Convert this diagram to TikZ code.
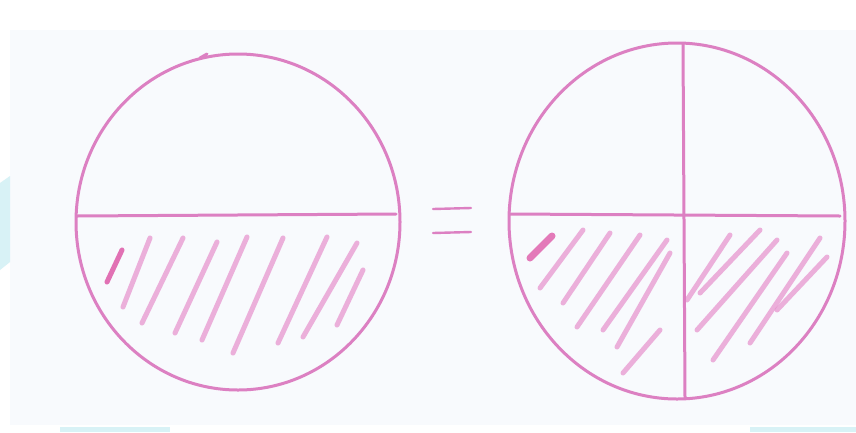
\documentclass[tikz,border=0pt]{standalone}
\usetikzlibrary{calc}
\usepackage{xcolor}
\definecolor{penPink}{HTML}{DC80C2}
\definecolor{hatchPink}{HTML}{E690CC}
\definecolor{darkPink}{HTML}{DE5AA8}
\definecolor{paperBlue}{HTML}{F8FAFD}
\definecolor{tabCyan}{HTML}{D8F2F6}

\begin{document}
\begin{tikzpicture}[x=1pt,y=-1pt,line cap=round,line join=round]
\tikzstyle{penline}=[draw=penPink,line width=3pt]
\tikzstyle{hatch}=[draw=hatchPink,line width=5pt,opacity=.7]
% paper
\fill[white] (0,0) rectangle (856,432);
\fill[paperBlue] (10,30) rectangle (856,425);
\fill[tabCyan] (0,183) -- (10,176) -- (10,262) -- (0,270) -- cycle;
\fill[tabCyan] (60,427) rectangle (170,432);
\fill[tabCyan] (750,427) rectangle (856,432);
\useasboundingbox (0,0) rectangle (856,432);

% left whole: one half shaded
\coordinate (lc) at (238,222);
\foreach \xa/\ya/\xb/\yb in {123/307/150/238,142/323/183/238,175/333/217/242,202/340/247/237,233/353/283/238,278/343/327/237,303/337/357/243,337/325/363/270}{
  \draw[hatch] (\xa,\ya) -- (\xb,\yb);}
\draw[darkPink,line width=5pt,opacity=.85] (107,282) -- (122,250);
\draw[penline] (lc) ellipse[x radius=162,y radius=168];
\draw[penline] (77,216) -- (396,214);
\draw[penline] (200,58) -- (207,54);

% equals
\draw[penline,line width=2.4pt] (433,209) -- (471,208);
\draw[penline,line width=2.4pt] (433,233) -- (471,232);

% right whole: two quarters shaded
\coordinate (rc) at (677,221);
\foreach \xa/\ya/\xb/\yb in {540/288/583/230,563/303/610/233,577/327/640/235,603/330/667/240,617/347/670/253,623/373/660/330}{
  \draw[hatch] (\xa,\ya) -- (\xb,\yb);}
\foreach \xa/\ya/\xb/\yb in {687/300/730/235,700/293/760/230,697/330/777/240,713/360/787/253,750/343/820/238,777/310/827/257}{
  \draw[hatch] (\xa,\ya) -- (\xb,\yb);}
\draw[darkPink,line width=7pt,opacity=.8] (530,258) -- (552,236);
\draw[penline] (rc) ellipse[x radius=168,y radius=178];
\draw[penline] (510,214) -- (840,216);
\draw[penline] (683,44) -- (685,398);
\end{tikzpicture}
\end{document}
